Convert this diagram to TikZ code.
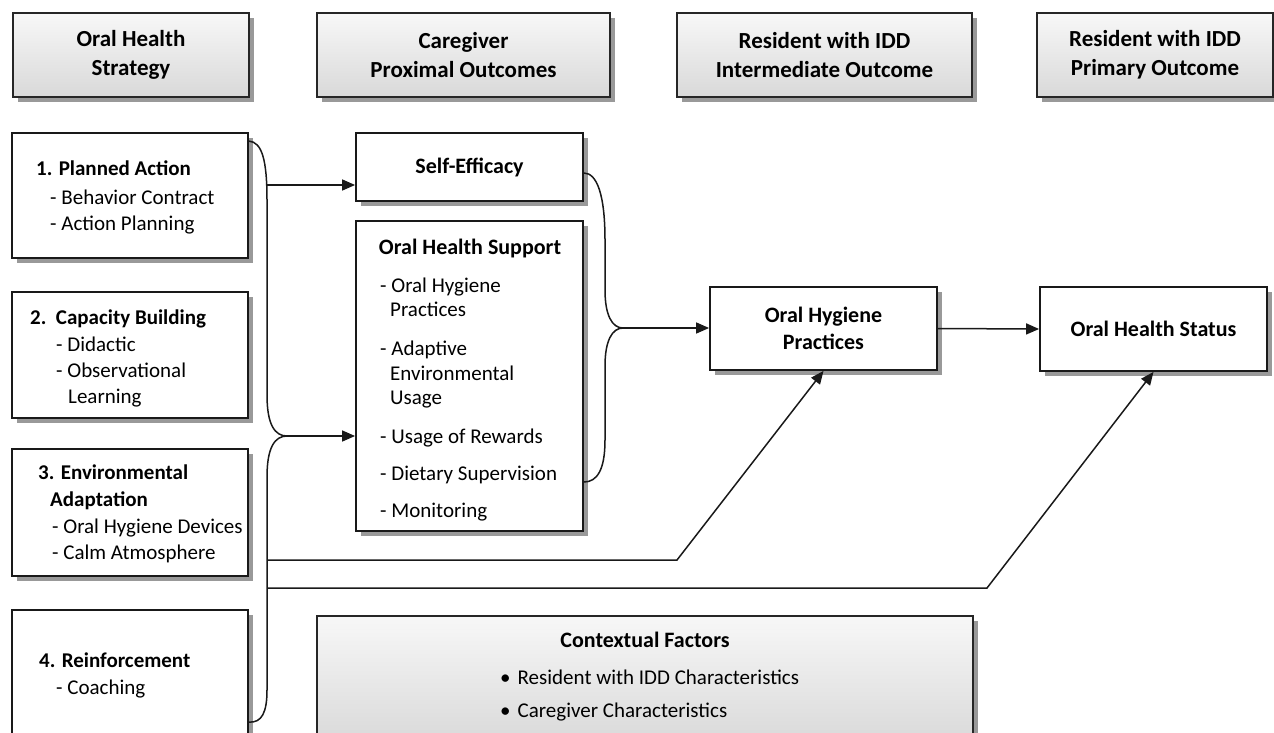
\documentclass[tikz,border=0pt]{standalone}
\usepackage{fontspec}
\setmainfont{Carlito}
\usetikzlibrary{arrows.meta, calc, shadows, positioning}

\tikzset{
  hdr/.style={draw=black!85, line width=2.4pt, top color=black!3, bottom color=black!15,
    drop shadow={shadow xshift=5pt, shadow yshift=-5pt, fill=black!40, opacity=1},
    align=center, inner sep=0pt, font=\fontsize{23}{29}\selectfont\bfseries},
  box/.style={draw=black!90, line width=1.8pt, fill=white,
    drop shadow={shadow xshift=5pt, shadow yshift=-5pt, fill=black!40, opacity=1},
    align=center, inner sep=0pt, font=\fontsize{22}{27}\selectfont\bfseries},
  ttl/.style={anchor=base, inner sep=0pt, font=\fontsize{22}{27}\selectfont\bfseries},
  head/.style={anchor=base west, inner sep=0pt, font=\fontsize{21}{26}\selectfont\bfseries},
  item/.style={anchor=base west, inner sep=0pt, font=\fontsize{21}{26}\selectfont},
  link/.style={line width=1.5pt, black!90},
  arr/.style={link, -{Triangle[length=13pt,width=11pt]}}
}

\begin{document}
\begin{tikzpicture}[x=1pt,y=-1pt]
\useasboundingbox (0,0) rectangle (1274,732);

% column heads
\node[hdr, minimum width=236pt, minimum height=84pt] (strat) at (131,55) {Oral Health\\Strategy};
\node[hdr, minimum width=293pt, minimum height=84pt] (care) at (463.5,55) {Caregiver\\Proximal Outcomes};
\node[hdr, minimum width=295pt, minimum height=84pt] (inter) at (824.5,55) {Resident with IDD\\Intermediate Outcome};
\node[hdr, minimum width=236pt, minimum height=84pt] (prim) at (1155,55) {Resident with IDD\\Primary Outcome};

% strategies
\node[box, minimum width=236pt, minimum height=125pt] (plan) at (130,195.5) {};
\node[head] (plan1) at (36,175) {1. Planned Action};
\node[item] (plan2) at (50,204) {- Behavior Contract};
\node[item] (plan3) at (50,230) {- Action Planning};

\node[box, minimum width=236pt, minimum height=126pt] (capac) at (130,355) {};
\node[head] (capac1) at (30,324) {2.\ \ Capacity Building};
\node[item] (capac2) at (56,351) {- Didactic};
\node[item] (capac3) at (56,377) {- Observational};
\node[item] (capac4) at (68,403) {Learning};

\node[box, minimum width=236pt, minimum height=127pt] (envir) at (130,512.5) {};
\node[head] (envir1) at (38,479) {3. Environmental};
\node[head] (envir2) at (50,506) {Adaptation};
\node[item] (envir3) at (52,533) {- Oral Hygiene Devices};
\node[item] (envir4) at (52,559) {- Calm Atmosphere};

\node[box, minimum width=236pt, minimum height=135pt] (reinf) at (130,677.5) {};
\node[head] (reinf1) at (39,667) {4. Reinforcement};
\node[item] (reinf2) at (56,694) {- Coaching};

% caregiver outcomes
\node[box, minimum width=227pt, minimum height=68pt] (selfeff) at (469.5,167) {Self-Efficacy};

\node[box, minimum width=227pt, minimum height=310pt] (support) at (469.5,376) {};
\node[ttl] (supp0) at (470,254) {Oral Health Support};
\node[item] (supp1) at (380,292) {- Oral Hygiene};
\node[item] (supp2) at (390,316) {Practices};
\node[item] (supp3) at (380,355) {- Adaptive};
\node[item] (supp4) at (390,380) {Environmental};
\node[item] (supp5) at (390,404) {Usage};
\node[item] (supp6) at (380,443) {- Usage of Rewards};
\node[item] (supp7) at (380,480) {- Dietary Supervision};
\node[item] (supp8) at (380,517) {- Monitoring};

% resident outcomes
\node[box, minimum width=227pt, minimum height=83pt] (hyg) at (823.5,328.5) {Oral Hygiene\\Practices};
\node[box, minimum width=227pt, minimum height=84pt] (status) at (1153.5,329) {Oral Health Status};

% context
\node[hdr, minimum width=656pt, minimum height=129pt] (context) at (645,680.5) {};
\node[ttl] (ctx0) at (645,647) {Contextual Factors};
\node[item] (ctx1) at (500,684) {\textbullet\hspace{7pt}Resident with IDD Characteristics};
\node[item] (ctx2) at (500,717) {\textbullet\hspace{7pt}Caregiver Characteristics};

% connectors
\coordinate (cuspL) at (287,436);
\coordinate (cuspR) at (623,328);
\coordinate (tapA) at (267,185);
\coordinate (tapB) at (267,560);
\coordinate (tapC) at (267,588);
\coordinate (kinkA) at (677,560);
\coordinate (kinkB) at (987,588);

\draw[link] ($(plan.north east)+(0,9)$) .. controls (262,142) and (267,160) .. (267,200)
  -- (267,395) .. controls (267,425) and (275,436) .. (cuspL)
  .. controls (275,436) and (267,447) .. (267,477) -- (267,690)
  .. controls (267,712) and (262,723) .. ($(reinf.north east)+(0,113)$);
\draw[link] ($(selfeff.east)+(0,6)$) .. controls (597,173) and (605,195) .. (605,240)
  -- (605,290) .. controls (605,315) and (612,328) .. (cuspR)
  .. controls (612,328) and (605,341) .. (605,366) -- (605,440)
  .. controls (605,470) and (597,482) .. ($(support.east)+(0,106)$);

\draw[arr] (tapA) -- (tapA -| selfeff.west);
\draw[arr] (cuspL) -- (cuspL -| support.west);
\draw[arr] (cuspR) -- (cuspR -| hyg.west);
\draw[arr] (hyg.east) -- (status.west);
\draw[arr] (tapB) -- (kinkA) -- (hyg.south);
\draw[arr] (tapC) -- (kinkB) -- (status.south);
\end{tikzpicture}
\end{document}
